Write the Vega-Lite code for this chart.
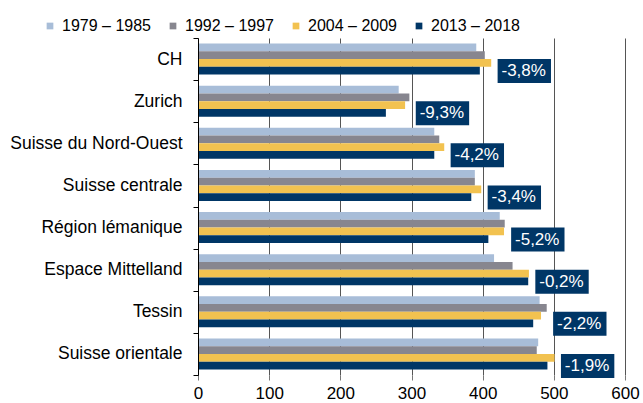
{
  "$schema": "https://vega.github.io/schema/vega-lite/v6.json",
  "width": 427,
  "height": 337,
  "autosize": {"type": "none"},
  "padding": {"left": 198, "top": 38, "right": 18, "bottom": 28},
  "background": "white",
  "config": {
    "font": "Liberation Sans",
    "view": {"stroke": null}
  },
  "datasets": {
    "bars": [
      {"region": "CH", "period": "1979 – 1985", "value": 391},
      {"region": "CH", "period": "1992 – 1997", "value": 403},
      {"region": "CH", "period": "2004 – 2009", "value": 412},
      {"region": "CH", "period": "2013 – 2018", "value": 396},
      {"region": "Zurich", "period": "1979 – 1985", "value": 282},
      {"region": "Zurich", "period": "1992 – 1997", "value": 297},
      {"region": "Zurich", "period": "2004 – 2009", "value": 291},
      {"region": "Zurich", "period": "2013 – 2018", "value": 264},
      {"region": "Suisse du Nord-Ouest", "period": "1979 – 1985", "value": 332},
      {"region": "Suisse du Nord-Ouest", "period": "1992 – 1997", "value": 339},
      {"region": "Suisse du Nord-Ouest", "period": "2004 – 2009", "value": 346},
      {"region": "Suisse du Nord-Ouest", "period": "2013 – 2018", "value": 332},
      {"region": "Suisse centrale", "period": "1979 – 1985", "value": 389},
      {"region": "Suisse centrale", "period": "1992 – 1997", "value": 389},
      {"region": "Suisse centrale", "period": "2004 – 2009", "value": 398},
      {"region": "Suisse centrale", "period": "2013 – 2018", "value": 384},
      {"region": "Région lémanique", "period": "1979 – 1985", "value": 424},
      {"region": "Région lémanique", "period": "1992 – 1997", "value": 431},
      {"region": "Région lémanique", "period": "2004 – 2009", "value": 430},
      {"region": "Région lémanique", "period": "2013 – 2018", "value": 408},
      {"region": "Espace Mittelland", "period": "1979 – 1985", "value": 416},
      {"region": "Espace Mittelland", "period": "1992 – 1997", "value": 442},
      {"region": "Espace Mittelland", "period": "2004 – 2009", "value": 465},
      {"region": "Espace Mittelland", "period": "2013 – 2018", "value": 464},
      {"region": "Tessin", "period": "1979 – 1985", "value": 480},
      {"region": "Tessin", "period": "1992 – 1997", "value": 490},
      {"region": "Tessin", "period": "2004 – 2009", "value": 482},
      {"region": "Tessin", "period": "2013 – 2018", "value": 471},
      {"region": "Suisse orientale", "period": "1979 – 1985", "value": 478},
      {"region": "Suisse orientale", "period": "1992 – 1997", "value": 476},
      {"region": "Suisse orientale", "period": "2004 – 2009", "value": 501},
      {"region": "Suisse orientale", "period": "2013 – 2018", "value": 491}
    ],
    "labels": [
      {"region": "CH", "label": "-3,8%"},
      {"region": "Zurich", "label": "-9,3%"},
      {"region": "Suisse du Nord-Ouest", "label": "-4,2%"},
      {"region": "Suisse centrale", "label": "-3,4%"},
      {"region": "Région lémanique", "label": "-5,2%"},
      {"region": "Espace Mittelland", "label": "-0,2%"},
      {"region": "Tessin", "label": "-2,2%"},
      {"region": "Suisse orientale", "label": "-1,9%"}
    ]
  },
  "encoding": {
    "y": {
      "field": "region",
      "type": "nominal",
      "sort": ["CH", "Zurich", "Suisse du Nord-Ouest", "Suisse centrale", "Région lémanique", "Espace Mittelland", "Tessin", "Suisse orientale"],
      "scale": {"paddingInner": 0, "paddingOuter": 0},
      "axis": {
        "title": null,
        "domain": true,
        "domainColor": "#000000",
        "domainWidth": 1,
        "ticks": true,
        "tickBand": "extent",
        "tickSize": 5,
        "tickColor": "#000000",
        "labelFontSize": 17.5,
        "labelColor": "#000000",
        "labelPadding": 11,
        "grid": false,
        "zindex": 2
      }
    }
  },
  "layer": [
    {
      "data": {"name": "bars"},
      "mark": {"type": "bar"},
      "encoding": {
        "x": {
          "field": "value",
          "type": "quantitative",
          "scale": {"domain": [0, 600], "nice": false},
          "axis": {
            "title": null,
            "values": [0, 100, 200, 300, 400, 500, 600],
            "grid": true,
            "gridColor": "#555555",
            "gridWidth": 1,
            "domain": false,
            "ticks": true,
            "tickSize": 5,
            "tickColor": "#777777",
            "labelFontSize": 17,
            "labelColor": "#000000",
            "labelPadding": 5,
            "labelFlush": false
          }
        },
        "yOffset": {
          "field": "period",
          "type": "nominal",
          "sort": ["1979 – 1985", "1992 – 1997", "2004 – 2009", "2013 – 2018"],
          "scale": {"paddingInner": 0, "paddingOuter": 0.72}
        },
        "color": {
          "field": "period",
          "type": "nominal",
          "sort": ["1979 – 1985", "1992 – 1997", "2004 – 2009", "2013 – 2018"],
          "scale": {"range": ["#a8bdd8", "#87868f", "#f2c250", "#003666"]},
          "legend": {
            "title": null,
            "orient": "none",
            "direction": "horizontal",
            "legendX": -156,
            "legendY": -20,
            "padding": 0,
            "symbolType": "square",
            "symbolSize": 45,
            "symbolStrokeWidth": 0,
            "labelFontSize": 16,
            "labelColor": "#000000",
            "labelOffset": 4,
            "columnPadding": 14
          }
        }
      }
    },
    {
      "data": {"name": "bars"},
      "transform": [
        {"joinaggregate": [{"op": "max", "field": "value", "as": "maxv"}], "groupby": ["region"]},
        {"filter": "datum.period === '2013 – 2018'"},
        {"lookup": "region", "from": {"data": {"name": "labels"}, "key": "region", "fields": ["label"]}},
        {"calculate": "datum.maxv + 9", "as": "boxStart"},
        {"calculate": "datum.maxv + 84", "as": "boxEnd"}
      ],
      "layer": [
        {
          "mark": {"type": "bar", "color": "#003666", "height": 24, "yOffset": 12},
          "encoding": {
            "x": {"field": "boxStart", "type": "quantitative"},
            "x2": {"field": "boxEnd"}
          }
        },
        {
          "mark": {"type": "text", "color": "white", "fontSize": 17, "align": "center", "baseline": "middle", "dx": 32.5, "dy": 12},
          "encoding": {
            "x": {"field": "maxv", "type": "quantitative"},
            "text": {"field": "label"}
          }
        }
      ]
    }
  ]
}
